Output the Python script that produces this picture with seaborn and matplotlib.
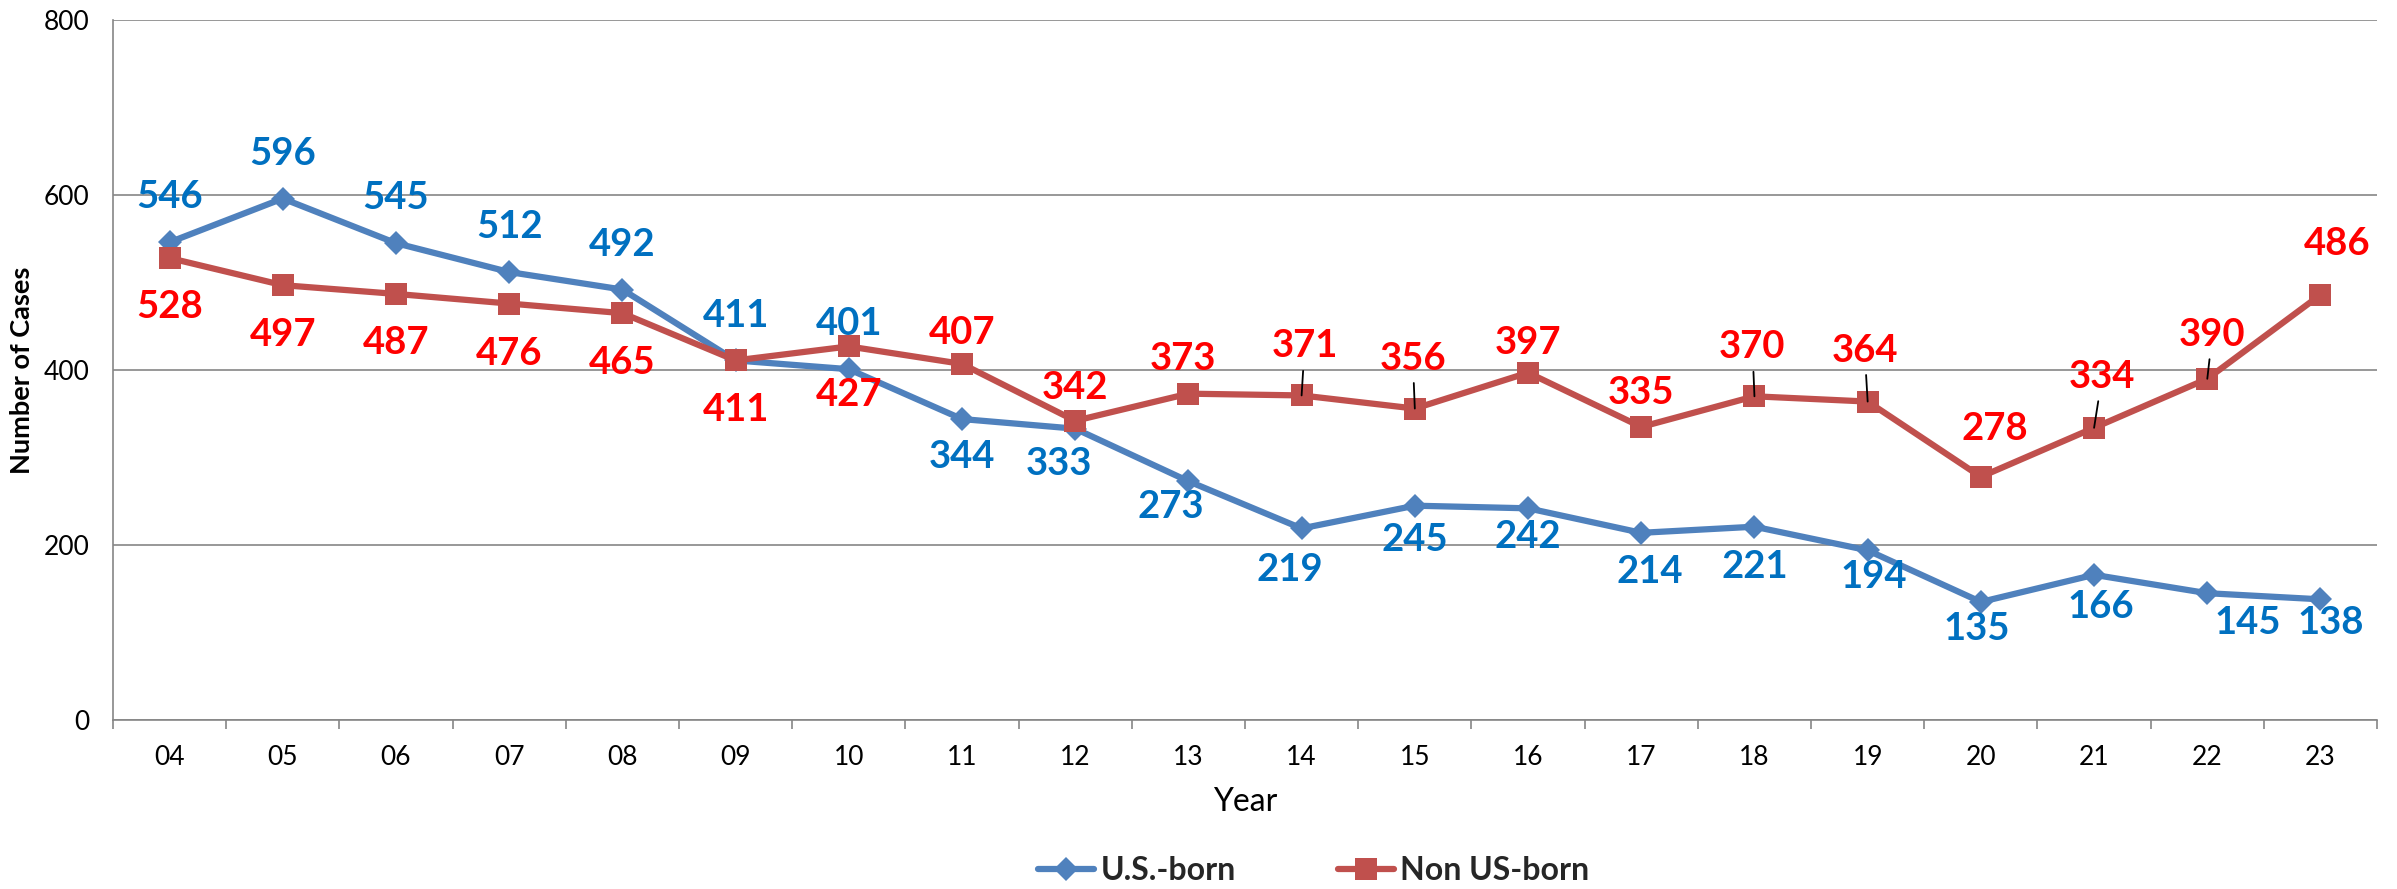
import numpy as np
import pandas as pd
import matplotlib
matplotlib.use("Agg")
import matplotlib.pyplot as plt
import seaborn as sns

# ---- data ----
years = ["04", "05", "06", "07", "08", "09", "10", "11", "12", "13",
         "14", "15", "16", "17", "18", "19", "20", "21", "22", "23"]
us_born = [546, 596, 545, 512, 492, 411, 401, 344, 333, 273,
           219, 245, 242, 214, 221, 194, 135, 166, 145, 138]
non_us_born = [528, 497, 487, 476, 465, 411, 427, 407, 342, 373,
               371, 356, 397, 335, 370, 364, 278, 334, 390, 486]
groups = ["U.S.-born", "Non US-born"]

# label placement (pixel offsets from the point, image-down positive) and leader lines
us_offsets = [(0, -45), (0, -45), (0, -45), (0, -45), (0, -45), (0, -44), (0, -45),
              (0, 38), (-16, 35), (-18, 26), (-12, 42), (0, 34), (0, 29), (9, 39),
              (0, 40), (6, 27), (-4, 27), (7, 32), (40, 30), (10, 24)]
non_us_offsets = [(0, 49), (0, 50), (0, 49), (0, 50), (0, 50), (0, 50), (0, 49),
                  (0, -31), (0, -33), (-5, -35), (3, -49), (-2, -50), (0, -30), (0, -34),
                  (-2, -49), (-3, -51), (14, -48), (8, -51), (5, -44), (17, -51)]
non_us_leaders = {10, 11, 14, 15, 17, 18}

line_colors = {"U.S.-born": "#4F81BD", "Non US-born": "#C0504D"}
label_colors = {"U.S.-born": "#0070C0", "Non US-born": "#FF0000"}
markers = {"U.S.-born": "D", "Non US-born": "s"}

df = pd.concat([
    pd.DataFrame({"Year": years, "Cases": us_born, "Group": groups[0]}),
    pd.DataFrame({"Year": years, "Cases": non_us_born, "Group": groups[1]}),
], ignore_index=True)

sns.set_theme(style="white")
plt.rcParams["font.family"] = ["Lato", "DejaVu Sans"]

fig = plt.figure(figsize=(23.97, 8.89), dpi=100)
ax = fig.add_axes([0.0471, 0.190, 0.9446, 0.7875])

sns.lineplot(data=df, x="Year", y="Cases", hue="Group", style="Group",
             hue_order=groups, style_order=groups,
             markers=markers, dashes=False, palette=line_colors,
             linewidth=4.5, markeredgewidth=0, sort=False, legend=False, ax=ax)
ax.lines[0].set_markersize(12)
ax.lines[1].set_markersize(15.5)
for ln in ax.lines[:2]:
    ln.set_zorder(3)

# axes styling
ax.set_ylim(0, 800)
ax.set_yticks(np.arange(0, 801, 200))
ax.set_xlim(-0.5, len(years) - 0.5)
ax.set_xticks(np.arange(len(years)))
ax.set_xticklabels(years)
ax.set_xticks(np.arange(-0.5, len(years), 1), minor=True)
ax.grid(axis="y", color="#868686", linewidth=1.2)
ax.grid(axis="x", visible=False)
ax.set_axisbelow(True)
for side in ["top", "right"]:
    ax.spines[side].set_visible(False)
for side in ["left", "bottom"]:
    ax.spines[side].set_color("#868686")
    ax.spines[side].set_linewidth(1.2)
ax.tick_params(axis="y", which="major", length=6, width=1.2, color="#868686",
               direction="out", pad=11, labelsize=19, labelcolor="black")
ax.tick_params(axis="x", which="major", length=0, pad=18, labelsize=19, labelcolor="black")
ax.tick_params(axis="x", which="minor", length=6.5, width=1.2, color="#868686",
               direction="out", bottom=True)

ax.set_ylabel("Number of Cases", fontsize=19.5, fontweight="bold", color="black")
ax.yaxis.set_label_coords(-0.035, 0.5)
ax.set_xlabel("Year", fontsize=23, color="black")
ax.xaxis.set_label_coords(0.5, -0.095)
ax.xaxis.label.set_va("top")

# data labels
series = [(groups[0], us_born, us_offsets, set()),
          (groups[1], non_us_born, non_us_offsets, non_us_leaders)]
for name, vals, offs, leaders in series:
    for i, (v, (dx, dy)) in enumerate(zip(vals, offs)):
        arrow = None
        if i in leaders:
            arrow = dict(arrowstyle="-", color="black", lw=1.3, shrinkA=3, shrinkB=0)
        ax.annotate(str(v), xy=(i, v), xytext=(dx, -dy), textcoords="offset pixels",
                    ha="center", va="center", fontsize=27.5, fontweight="bold",
                    color=label_colors[name], arrowprops=arrow, zorder=5)

# legend below the axis title
ax.legend(handles=ax.lines[:2], labels=groups, loc="center",
          bbox_to_anchor=(0.548, 0.021), bbox_transform=fig.transFigure,
          ncol=2, frameon=False, handlelength=1.75, handletextpad=0.2,
          columnspacing=3.2, prop={"size": 23, "weight": "bold"})

fig.savefig("out.png", dpi=100)
